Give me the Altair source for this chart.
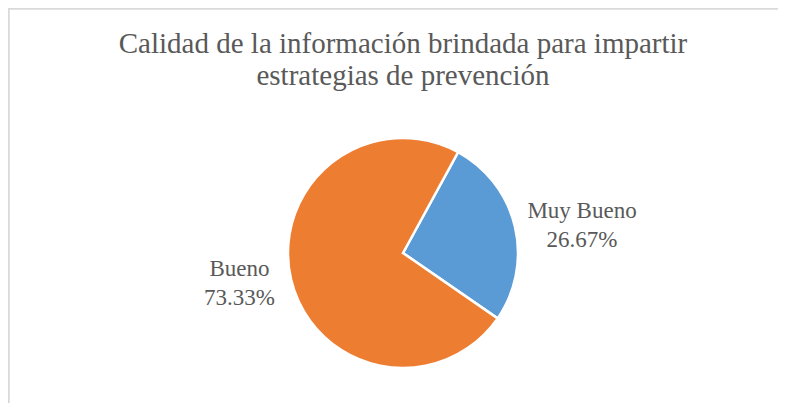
import math
import altair as alt
import pandas as pd

# ---- data ----
categories = ["Muy Bueno", "Bueno"]
values = [4, 11]
order = [0, 1]
colors = ["#5B9BD5", "#ED7D31"]

title_lines = ["Calidad de la información brindada para impartir",
               "estrategias de prevención"]

df = pd.DataFrame({"categoria": categories, "valor": values, "orden": order})

start = 0.5  # radians, clockwise from 12 o'clock

W, H = 750, 300
PL, PT = 20, 95
FONT = "Liberation Serif"
GREY = "#595959"

base = alt.Chart(df).transform_joinaggregate(
    total="sum(valor)"
).transform_calculate(
    etiqueta="datum.categoria + '\\n' + format(datum.valor / datum.total, '.2%')"
).encode(
    theta=alt.Theta("valor:Q", stack=True,
                    scale=alt.Scale(range=[start, start + 2 * math.pi])),
    order=alt.Order("orden:Q"),
    color=alt.Color("categoria:N",
                    scale=alt.Scale(domain=categories, range=colors),
                    legend=None),
)

arc = base.mark_arc(outerRadius=115, stroke="white", strokeWidth=2.5)

def label(cat, r, dx=0, dy=0):
    return base.transform_calculate(
        texto="datum.categoria == '%s' ? datum.etiqueta : ''" % cat
    ).mark_text(
        radius=r, font=FONT, fontSize=23, lineBreak="\n", lineHeight=29,
        align="center", baseline="middle", dx=dx, dy=dy
    ).encode(text="texto:N", color=alt.value(GREY))

frame_top = alt.Chart(df).mark_rule(color="#d9d9d9", strokeWidth=2).encode(
    x=alt.value(-PL), x2=alt.value(W + 10), y=alt.value(-PT + 0.5)
)
frame_left = alt.Chart(df).mark_rule(color="#d9d9d9", strokeWidth=2).encode(
    x=alt.value(-PL + 0.5), y=alt.value(-PT), y2=alt.value(H)
)

chart = alt.layer(
    frame_top, frame_left, arc,
    label("Muy Bueno", 184),
    label("Bueno", 166, dx=-2, dy=-22),
).properties(
    width=W, height=H,
    autosize=alt.AutoSizeParams(type="none"),
    padding={"left": PL, "top": PT, "right": 0, "bottom": 0},
    title=alt.TitleParams(
        text=title_lines, font=FONT, fontSize=29, fontWeight="normal",
        color=GREY, lineHeight=32, anchor="middle", offset=-84,
    ),
).configure_view(stroke=None)

chart.save("out.html", embed_options={"renderer": "svg", "actions": False})
